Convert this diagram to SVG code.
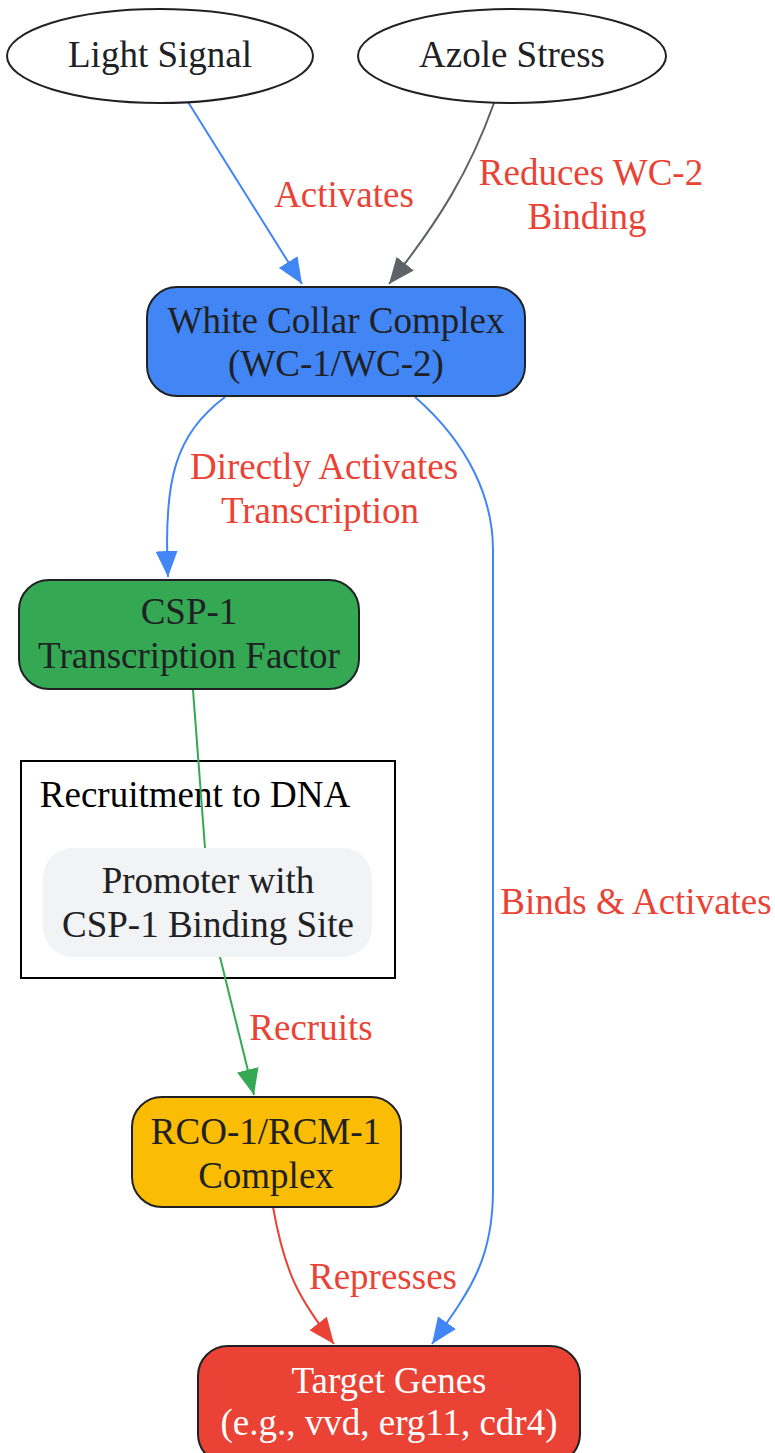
<svg xmlns="http://www.w3.org/2000/svg" width="775" height="1453" viewBox="0 0 775 1453">
<style>
text{font-family:"Liberation Serif","Times New Roman",serif;font-size:37px;text-anchor:middle;fill:#202124}
.lbl{fill:#EA4335}
.node{stroke:#202124;stroke-width:2}
.e{fill:none;stroke-width:2}
</style>
<defs>
<marker id="aB" markerUnits="userSpaceOnUse" markerWidth="28" markerHeight="22" refX="26" refY="11" orient="auto"><path d="M0,0 L26,11 L0,22 Z" fill="#4285F4"/></marker>
<marker id="aG" markerUnits="userSpaceOnUse" markerWidth="28" markerHeight="22" refX="26" refY="11" orient="auto"><path d="M0,0 L26,11 L0,22 Z" fill="#5F6368"/></marker>
<marker id="aGr" markerUnits="userSpaceOnUse" markerWidth="28" markerHeight="22" refX="26" refY="11" orient="auto"><path d="M0,0 L26,11 L0,22 Z" fill="#34A853"/></marker>
<marker id="aR" markerUnits="userSpaceOnUse" markerWidth="28" markerHeight="22" refX="26" refY="11" orient="auto"><path d="M0,0 L26,11 L0,22 Z" fill="#EA4335"/></marker>
</defs>
<rect width="775" height="1453" fill="#fff"/>
<g id="cluster">
<rect x="21" y="761" width="374" height="217" fill="none" stroke="#000" stroke-width="2"/>
<text x="195" y="807" style="fill:#000">Recruitment to DNA</text>
</g>
<g id="edges">
<path class="e" stroke="#4285F4" d="M188,102 L302,284" marker-end="url(#aB)"/>
<path class="e" stroke="#5F6368" d="M494,103 C470,170 440,220 389,284" marker-end="url(#aG)"/>
<path class="e" stroke="#4285F4" d="M225,397 C175,435 163,480 168,577" marker-end="url(#aB)"/>
<path class="e" stroke="#4285F4" d="M415,397 C470,445 493,500 493,550 L493,1190 C493,1260 470,1290 432,1344" marker-end="url(#aB)"/>
<path class="e" stroke="#34A853" d="M193,690 L205,848"/>
<path class="e" stroke="#34A853" d="M220,957 L254,1095" marker-end="url(#aGr)"/>
<path class="e" stroke="#EA4335" d="M273,1207 C285,1275 300,1300 334,1344" marker-end="url(#aR)"/>
<text class="lbl" x="344" y="207">Activates</text>
<text class="lbl" x="591" y="185">Reduces WC-2</text>
<text class="lbl" x="587" y="229">Binding</text>
<text class="lbl" x="324" y="479">Directly Activates</text>
<text class="lbl" x="320" y="523">Transcription</text>
<text class="lbl" x="636" y="914">Binds &amp; Activates</text>
<text class="lbl" x="311" y="1040">Recruits</text>
<text class="lbl" x="383" y="1289">Represses</text>
</g>
<g id="light">
<ellipse class="node" cx="160" cy="56" rx="153" ry="47" fill="#fff"/>
<text x="160" y="67">Light Signal</text>
</g>
<g id="azole">
<ellipse class="node" cx="512" cy="56" rx="154" ry="47" fill="#fff"/>
<text x="512" y="67">Azole Stress</text>
</g>
<g id="wcc">
<rect class="node" x="147" y="287" width="378" height="109" rx="30" fill="#4285F4"/>
<text x="336" y="333">White Collar Complex</text>
<text x="336" y="376">(WC-1/WC-2)</text>
</g>
<g id="csp1">
<rect class="node" x="19" y="580" width="340" height="109" rx="30" fill="#34A853"/>
<text x="189" y="624">CSP-1</text>
<text x="189" y="668">Transcription Factor</text>
</g>
<g id="promoter">
<rect x="43" y="848" width="329" height="109" rx="30" fill="#F1F3F4"/>
<text x="208" y="893">Promoter with</text>
<text x="208" y="937">CSP-1 Binding Site</text>
</g>
<g id="rco">
<rect class="node" x="132" y="1097" width="269" height="110" rx="30" fill="#FBBC04"/>
<text x="266" y="1144">RCO-1/RCM-1</text>
<text x="266" y="1188">Complex</text>
</g>
<g id="target">
<rect class="node" x="198" y="1346" width="382" height="118" rx="30" fill="#EA4335"/>
<text x="389" y="1393" style="fill:#fff">Target Genes</text>
<text x="389" y="1435" style="fill:#fff">(e.g., vvd, erg11, cdr4)</text>
</g>
</svg>
